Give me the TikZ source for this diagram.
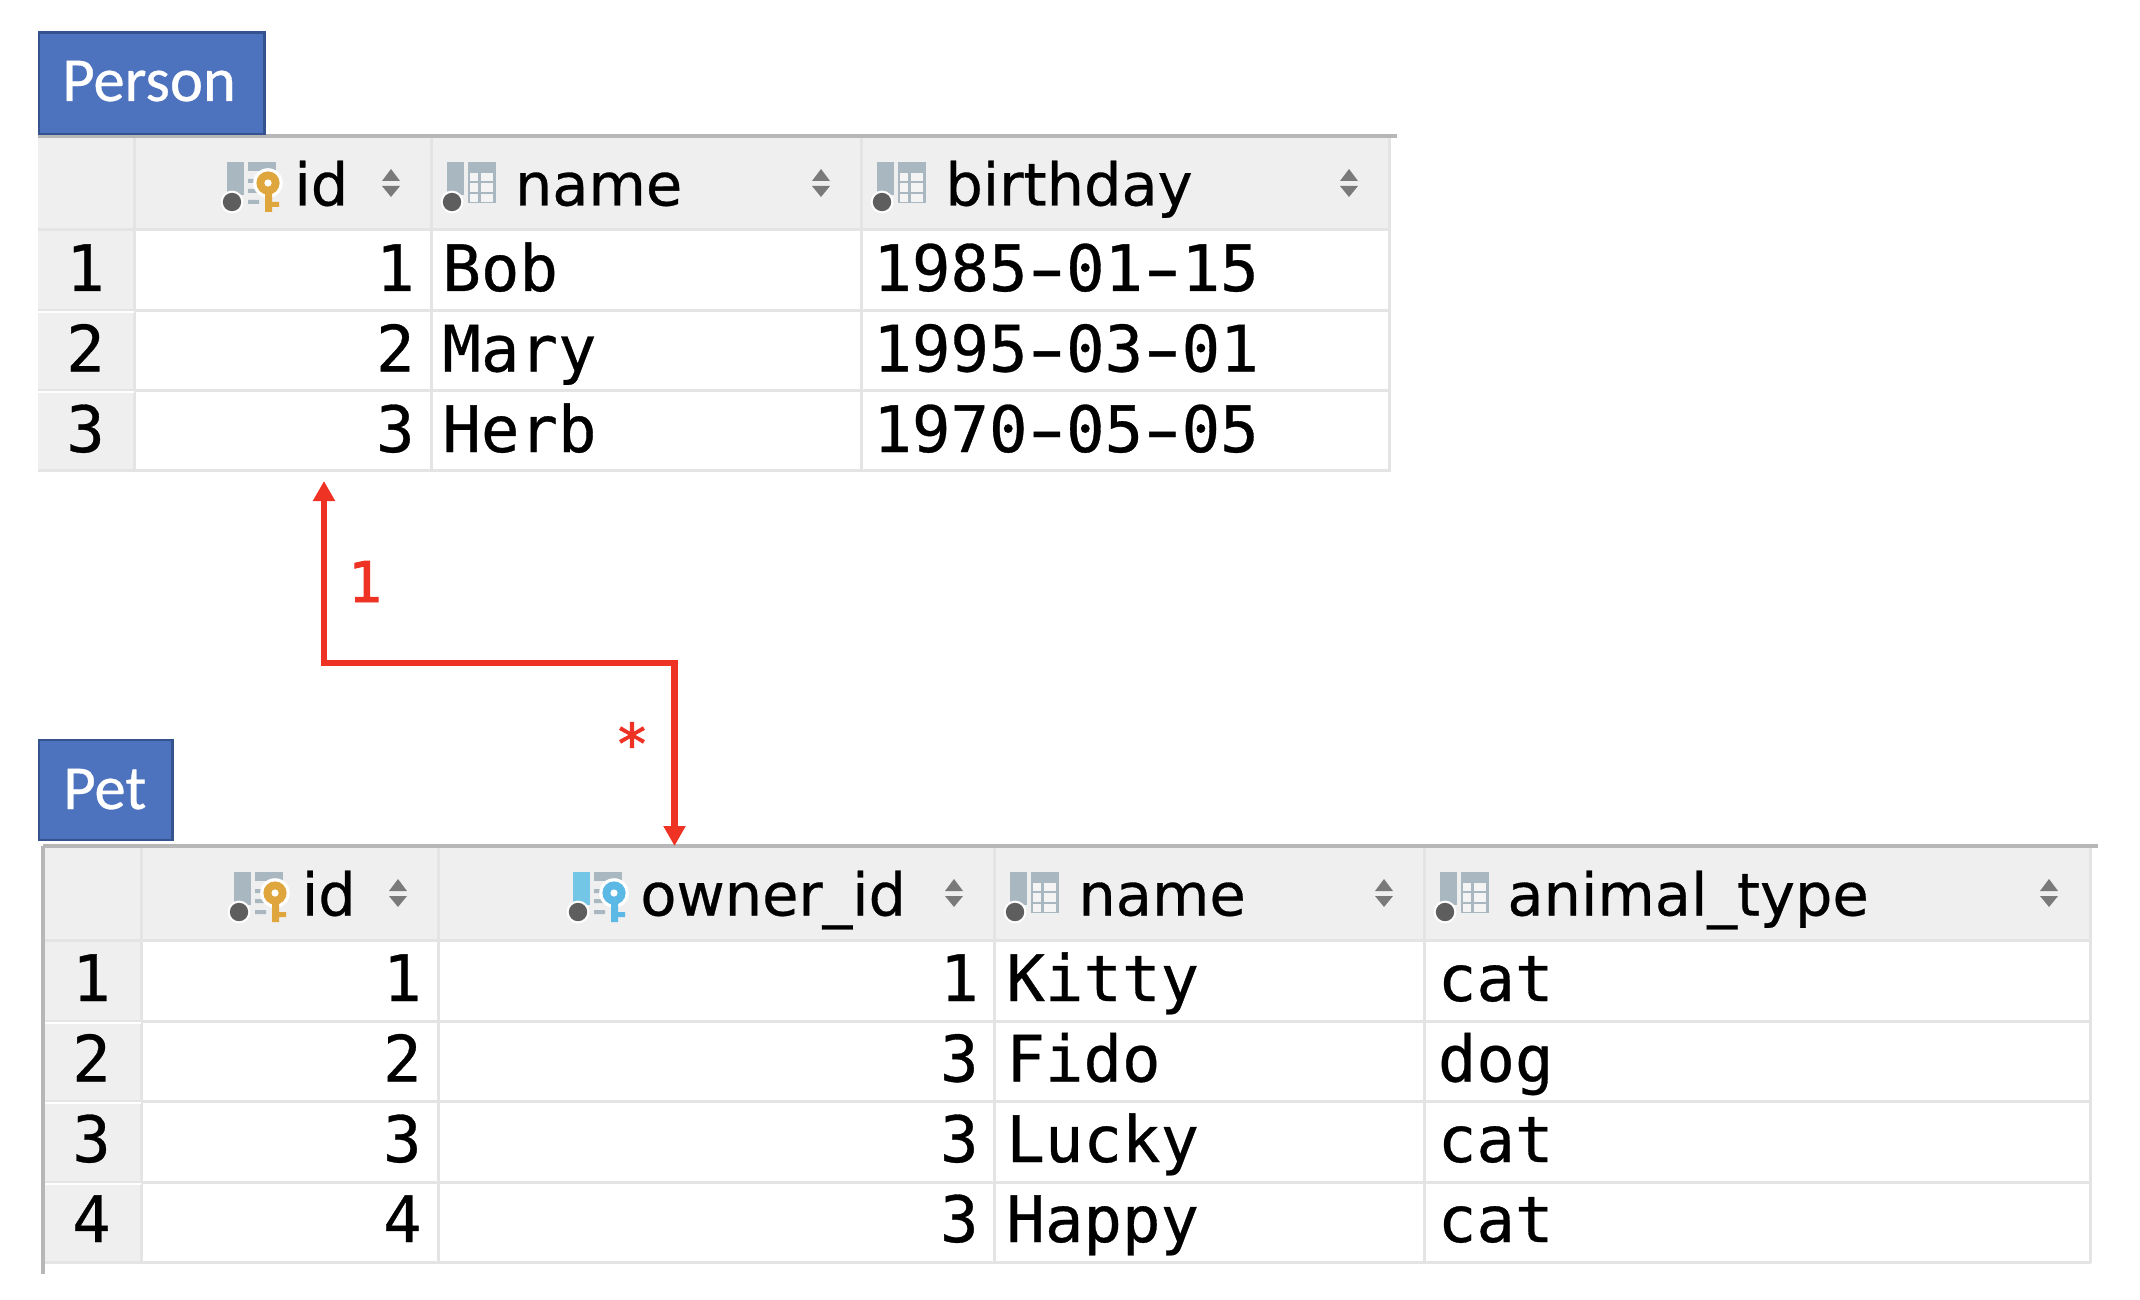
\documentclass[tikz,border=0pt]{standalone}
\usepackage{fontspec}
\usepackage{graphicx}
\setmainfont{DejaVu Sans}[FakeBold=0.5]
\setmonofont{DejaVu Sans Mono}[FakeBold=0.5]
\newfontfamily\capfont{Carlito}[FakeBold=0.5]
\newfontfamily\redfont{DejaVu Sans Mono}[FakeBold=1.6]
\usetikzlibrary{arrows.meta}
\definecolor{hdr}{HTML}{EFEFEF}
\definecolor{gridc}{HTML}{E4E4E4}
\definecolor{topc}{HTML}{B7B7B7}
\definecolor{boxfill}{HTML}{4D72BE}
\definecolor{boxedge}{HTML}{34538F}
\definecolor{redc}{HTML}{EE3224}
\definecolor{iconc}{HTML}{A9B7C0}
\definecolor{dotc}{HTML}{5E5E5E}
\definecolor{keygold}{HTML}{E0A63E}
\definecolor{keyblue}{HTML}{5CB8E4}
\definecolor{barblue}{HTML}{74C6E6}
\definecolor{sortc}{HTML}{7A7A7A}
\newcommand{\dsh}{\makebox[0.602em]{\scalebox{1.6}[1]{-}}}
\tikzset{
  x=0.5pt,y=-0.5pt,
  caption/.style={inner sep=0pt,text=white,font=\capfont\fontsize{31.3}{31.3}\selectfont,anchor=base west},
  capbox/.style={draw=boxedge,line width=1.3pt,fill=boxfill},
  head/.style={inner sep=0pt,anchor=base west,font=\fontsize{29.5}{30}\selectfont},
  lcell/.style={inner sep=0pt,anchor=base west,font=\ttfamily\fontsize{32}{32}\selectfont},
  rcell/.style={inner sep=0pt,anchor=base east,font=\ttfamily\fontsize{32}{32}\selectfont},
  ncell/.style={inner sep=0pt,anchor=base,font=\ttfamily\fontsize{32}{32}\selectfont},
  gridline/.style={draw=gridc,line width=1.5pt},
  topline/.style={draw=topc,line width=2pt},
  relation/.style={draw=redc,line width=3.3pt,{Triangle[length=10pt,width=10.5pt]}-{Triangle[length=10pt,width=10.5pt]}},
  rlabel/.style={inner sep=0pt,text=redc,font=\redfont\fontsize{28}{28}\selectfont}
}
% base icon: column bar + dot; #1 x, #2 y, #3 bar colour
\newcommand{\iconbase}[3]{%
  \begin{scope}[shift={(#1,#2)}]
    \fill[#3] (0,0) rectangle (17,33);
    \fill[white] (5,40) circle (5.7pt);
    \fill[dotc] (5,40) circle (4.6pt);
  \end{scope}}
\newcommand{\plainicon}[2]{%
  \begin{scope}[shift={(#1,#2)}]
    \fill[iconc] (22,0) rectangle (50,41);
    \foreach \gy/\gh in {11/8,21/9,32/8} {
      \fill[hdr!70!white] (24,\gy) rectangle +(8,\gh);
      \fill[hdr!70!white] (35,\gy) rectangle +(12,\gh);
    }
  \end{scope}%
  \iconbase{#1+1}{#2}{iconc}}
% key icon: #1 x, #2 y, #3 bar colour, #4 key colour
\newcommand{\keyicon}[4]{%
  \iconbase{#1}{#2}{#3}%
  \begin{scope}[shift={(#1,#2)}]
    \fill[iconc] (21,0) rectangle (49,9);
    \fill[iconc] (21,17) rectangle (28,21) (21,27) rectangle (33,31) (21,38) rectangle (32,42);
    \fill[white] (41,21) circle (7.4pt);
    \fill[#4] (41,21) circle (5.8pt);
    \fill[#4] (38,24) rectangle (45,50) (45,40) rectangle (52,45);
    \fill[white] (41,21) circle (1.8pt);
  \end{scope}}
\newcommand{\sorter}[2]{%
  \fill[sortc] (#1-9,#2-2) -- (#1+9,#2-2) -- (#1,#2-14) -- cycle;
  \fill[sortc] (#1-9,#2+3) -- (#1+9,#2+3) -- (#1,#2+14) -- cycle;}
\begin{document}
\begin{tikzpicture}
\useasboundingbox (0,0) rectangle (2140,1300);
\fill[white] (0,0) rectangle (2140,1300);

% Person table
\fill[hdr] (38,137) rectangle (1389,230);
\fill[hdr] (38,230) rectangle (134,470);
\foreach \gy in {230,310,390,470} \draw[gridline] (38,\gy) -- (1391,\gy);
\foreach \gx in {134,431,861,1389} \draw[gridline] (\gx,137) -- (\gx,471);
\draw[white,line width=1pt] (38,312) -- (134,312) (38,392) -- (134,392);
\draw[topline] (38,136) -- (1397,136);
\node[capbox,minimum width=112.7pt,minimum height=50.7pt,inner sep=0pt,anchor=north west] (personbox) at (37.5,31.5) {};
\node[caption] (personcap) at (62,101) {Person};

\keyicon{227}{162}{iconc}{keygold}
\plainicon{446}{162}
\plainicon{876}{162}
\sorter{391}{183}\sorter{821}{183}\sorter{1349}{183}
\node[head] (ph1) at (294,205.5) {id};
\node[head] (ph2) at (514.5,205.5) {name};
\node[head] (ph3) at (945,205.5) {birthday};

\node[ncell] (pn1) at (85.5,291) {1};
\node[ncell] (pn2) at (85.5,371.5) {2};
\node[ncell] (pn3) at (85.5,452) {3};
\node[rcell] (pa1) at (415,291) {1};
\node[rcell] (pa2) at (415,371.5) {2};
\node[rcell] (pa3) at (415,452) {3};
\node[lcell] (pb1) at (442,291) {Bob};
\node[lcell] (pb2) at (442,371.5) {Mary};
\node[lcell] (pb3) at (442,452) {Herb};
\node[lcell] (pc1) at (873,291) {1985\dsh 01\dsh 15};
\node[lcell] (pc2) at (873,371.5) {1995\dsh 03\dsh 01};
\node[lcell] (pc3) at (873,452) {1970\dsh 05\dsh 05};

% Pet table
\fill[hdr] (43,847) rectangle (2090,940);
\fill[hdr] (43,940) rectangle (141,1262);
\foreach \gy in {940,1021,1101,1182,1262} \draw[gridline] (43,\gy) -- (2091,\gy);
\foreach \gx in {141,438,994,1424,2090} \draw[gridline] (\gx,847) -- (\gx,1263);
\draw[white,line width=1pt] (45,1023) -- (141,1023) (45,1103) -- (141,1103) (45,1184) -- (141,1184);
\draw[topline] (43,846) -- (2098,846);
\draw[topline] (43,846) -- (43,1274);
\node[capbox,minimum width=66.7pt,minimum height=50pt,inner sep=0pt,anchor=north west] (petbox) at (37.5,738.5) {};
\node[caption] (petcap) at (63,809) {Pet};

\keyicon{234}{872}{iconc}{keygold}
\keyicon{573}{872}{barblue}{keyblue}
\plainicon{1009}{872}
\plainicon{1439}{872}
\sorter{398}{893}\sorter{954}{893}\sorter{1384}{893}\sorter{2049}{893}
\node[head] (h1) at (301.5,915.5) {id};
\node[head] (h2) at (640,915.5) {owner\_id};
\node[head] (h3) at (1078,915.5) {name};
\node[head] (h4) at (1507,915.5) {animal\_type};

\node[ncell] (n1) at (91.5,1001) {1};
\node[ncell] (n2) at (91.5,1081.5) {2};
\node[ncell] (n3) at (91.5,1162) {3};
\node[ncell] (n4) at (91.5,1242) {4};
\node[rcell] (a1) at (422,1001) {1};
\node[rcell] (a2) at (422,1081.5) {2};
\node[rcell] (a3) at (422,1162) {3};
\node[rcell] (a4) at (422,1242) {4};
\node[rcell] (b1) at (979,1001) {1};
\node[rcell] (b2) at (979,1081.5) {3};
\node[rcell] (b3) at (979,1162) {3};
\node[rcell] (b4) at (979,1242) {3};
\node[lcell] (c1) at (1006,1001) {Kitty};
\node[lcell] (c2) at (1006,1081.5) {Fido};
\node[lcell] (c3) at (1006,1162) {Lucky};
\node[lcell] (c4) at (1006,1242) {Happy};
\node[lcell] (d1) at (1437.5,1001) {cat};
\node[lcell] (d2) at (1437.5,1081.5) {dog};
\node[lcell] (d3) at (1437.5,1162) {cat};
\node[lcell] (d4) at (1437.5,1242) {cat};

% relation
\coordinate (pkend) at (324,481);
\coordinate (fkend) at (674.5,846);
\coordinate (elbowa) at (324,663);
\coordinate (elbowb) at (674.5,663);
\draw[relation] (pkend) -- (elbowa) -- (elbowb) -- (fkend);
\node[rlabel,anchor=base] (one) at (365,602) {1};
\node[rlabel,anchor=center] (many) at (632,743) {*};
\end{tikzpicture}
\end{document}
